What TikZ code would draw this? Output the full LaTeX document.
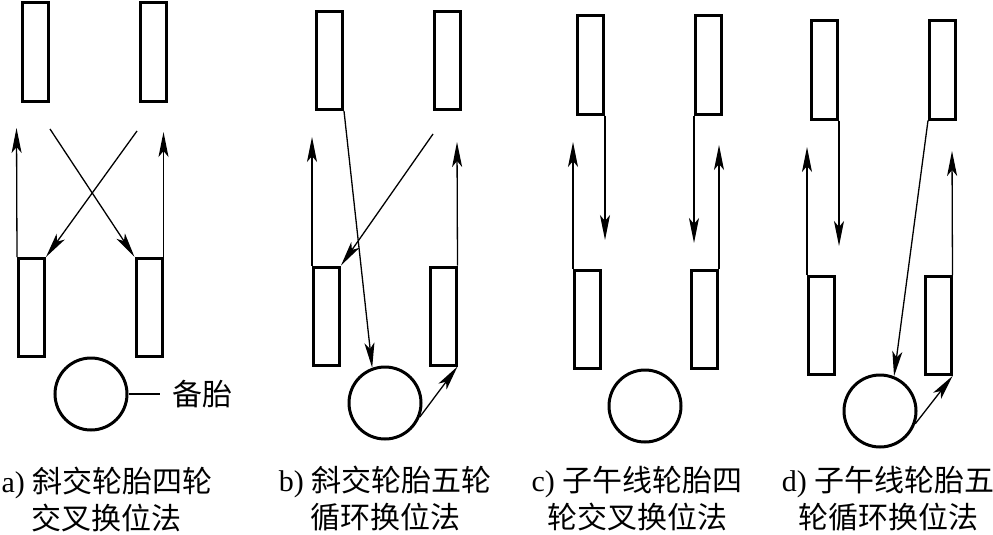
\documentclass[tikz,border=0pt]{standalone}
\usepackage{fontspec}
\setmainfont{Liberation Serif}
\newfontfamily\cjk{Noto Sans CJK SC}
\usetikzlibrary{arrows.meta}
\tikzset{
  tire/.style={draw, line width=3pt, inner sep=0pt, minimum width=26pt, minimum height=98pt},
  spare/.style={draw, circle, line width=3pt, inner sep=0pt, minimum size=72pt},
  arr/.style={line width=1.3pt, -{Stealth[length=25pt,width=10pt,inset=6pt]}},
  lbl/.style={align=center, font=\fontsize{30}{37}\selectfont, inner sep=0pt}
}
\begin{document}
\begin{tikzpicture}[x=1pt,y=-1pt]
\useasboundingbox (0,0) rectangle (993,535);
% ---------- panel a ----------
\node[tire] (A1) at (35.5,52) {};
\node[tire] (A2) at (153,52) {};
\node[tire] (A3) at (31.5,307.5) {};
\node[tire] (A4) at (149,307.5) {};
\node[spare] (Ac) at (91,394) {};
\coordinate (Aup1) at (16.5,128);
\coordinate (Aup2) at (163.5,132);
\coordinate (Ax1) at (50,129);
\coordinate (Ax2) at (137,131);
\draw[arr] (A3.north west) -- (Aup1);
\draw[arr] (A4.north east) -- (Aup2);
\draw[arr] (Ax1) -- (A4.north west);
\draw[arr] (Ax2) -- (A3.north east);
\node[font=\fontsize{30}{37}\selectfont\cjk, inner sep=0pt] (sp) at (202,394) {备胎};
\draw[line width=1.3pt] (Ac.east) -- (sp.west -| 160,0);
% ---------- panel b ----------
\node[tire] (B1) at (329.5,60.5) {};
\node[tire] (B2) at (447.5,60.5) {};
\node[tire] (B3) at (326.5,316) {};
\node[tire] (B4) at (443,316) {};
\node[spare] (Bc) at (385,403) {};
\coordinate (Bup1) at (312,137);
\coordinate (Bup2) at (457,142);
\coordinate (Bx) at (433,134);
\draw[arr] (B3.north west) -- (Bup1);
\draw[arr] (B4.north east) -- (Bup2);
\draw[arr] (B1.south east) -- (Bc.110);
\draw[arr] (Bx) -- (B3.north east);
\draw[arr] (Bc.-22) -- (B4.south east);
% ---------- panel c ----------
\node[tire] (C1) at (590.5,65) {};
\node[tire] (C2) at (708.5,65) {};
\node[tire] (C3) at (587.5,319.5) {};
\node[tire] (C4) at (704.5,319.5) {};
\node[spare] (Cc) at (645,406) {};
\coordinate (Cd1) at (605,240);
\coordinate (Cd2) at (694,243);
\coordinate (Cup1) at (573,142);
\coordinate (Cup2) at (719,145);
\draw[arr] (C1.south east) -- (Cd1);
\draw[arr] (C2.south west) -- (Cd2);
\draw[arr] (C3.north west) -- (Cup1);
\draw[arr] (C4.north east) -- (Cup2);
% ---------- panel d ----------
\node[tire] (D1) at (824.5,70) {};
\node[tire] (D2) at (942.5,70) {};
\node[tire] (D3) at (821.5,325.5) {};
\node[tire] (D4) at (938,325.5) {};
\node[spare] (Dc) at (880,411) {};
\coordinate (Dd1) at (839,246);
\coordinate (Dup1) at (807,147);
\coordinate (Dup2) at (952,151);
\draw[arr] (D1.south east) -- (Dd1);
\draw[arr] (D3.north west) -- (Dup1);
\draw[arr] (D4.north east) -- (Dup2);
\draw[arr] (D2.south west) -- (Dc.68);
\draw[arr] (Dc.-20) -- (D4.south east);
% ---------- captions ----------
\node[lbl] (La) at (107,499) {a) {\cjk 斜交轮胎四轮}\\{\cjk 交叉换位法}};
\node[lbl] (Lb) at (385,499) {b) {\cjk 斜交轮胎五轮}\\{\cjk 循环换位法}};
\node[lbl] (Lc) at (637,499) {c) {\cjk 子午线轮胎四}\\{\cjk 轮交叉换位法}};
\node[lbl] (Ld) at (888,499) {d) {\cjk 子午线轮胎五}\\{\cjk 轮循环换位法}};
\end{tikzpicture}
\end{document}
